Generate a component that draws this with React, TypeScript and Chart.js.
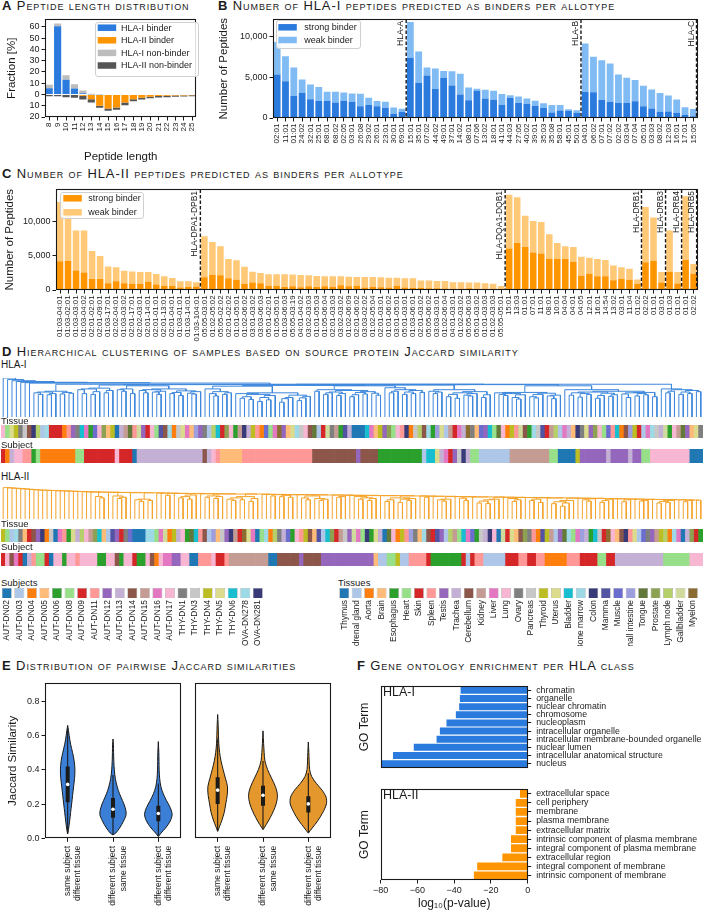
import React, { useEffect, useRef } from "react";
import { Chart, registerables } from "chart.js";

Chart.register(...registerables);

const FONT = "'Liberation Sans', Arial, Helvetica, sans-serif";
Chart.defaults.font.family = FONT;
Chart.defaults.color = "#1a1a1a";

const INK = "#1a1a1a";
const BLUE = "#2b7bde";
const BLUE_L = "#80bbf4";
const ORANGE = "#ff9500";
const ORANGE_L = "#ffc978";
const GRAY_L = "#bdbdbd";
const GRAY_D = "#555555";
const V_BLUE = "#3b7fd6";
const V_ORANGE = "#e3972c";
const DENDRO_BLUE = "#3d87dc";
const DENDRO_ORANGE = "#f5a42c";

// ---------------- Panel A ----------------
const lengthsA = ["8", "9", "10", "11", "12", "13", "14", "15", "16", "17", "18", "19", "20", "21", "22", "23", "24", "25"];
const hla1BinderA = [5.5, 60.5, 13, 5.2, 1, 0.2, 0.1, 0, 0, 0, 0, 0, 0, 0, 0, 0, 0, 0];
const hla1NonBinderA = [3, 2.3, 4, 3.8, 2.5, 0.3, 0.1, 0, 0, 0, 0, 0, 0, 0, 0, 0, 0, 0];
const hla2BinderA = [0, 0, 0, 0, 1.2, 4.3, 10, 12.4, 11.5, 7.2, 4.3, 2.9, 2, 1.4, 1.2, 1, 0.9, 0.8];
const hla2NonBinderA = [1.5, 1.7, 2.6, 2.9, 3.4, 2.9, 1.7, 2, 2, 2.3, 1.7, 1.7, 1.4, 1.4, 1.2, 1, 0.9, 0.8];
const yTicksA = [-20, -10, 0, 10, 20, 30, 40, 50, 60];

// ---------------- Panel B ----------------
const allotypesB = [
  "02:01", "11:01", "01:01", "24:02", "32:01", "25:01", "68:01", "68:02", "02:05", "03:01", "26:08", "29:02", "26:01", "23:01", "30:01", "69:01",
  "15:01", "35:01", "07:02", "44:02", "49:01", "37:01", "14:02", "08:01", "07:06", "13:02", "18:01", "41:01", "44:03", "27:05", "40:02", "39:01", "35:03", "35:08", "58:01", "45:01", "50:01",
  "04:01", "06:02", "07:01", "07:02", "02:02", "03:04", "07:04", "05:01", "03:03", "08:02", "12:03", "16:01", "17:01", "15:05",
];
const strongB = [
  5320, 4480, 2680, 3080, 2280, 2080, 2080, 1880, 2120, 2000, 1440, 1600, 1440, 1240, 520, 760,
  7360, 4320, 5180, 3550, 4920, 3970, 2860, 2180, 3330, 2380, 2220, 1630, 2460, 1830, 1750, 1510, 1230, 670, 910, 870, 630,
  3180, 3140, 2220, 1990, 1830, 1830, 2060, 1430, 1150, 750, 790, 640, 400, 200,
];
const weakB = [
  3960, 3080, 3480, 1640, 1800, 1720, 1120, 1320, 1000, 1000, 1520, 880, 640, 760, 760, 360,
  4360, 3800, 1000, 2500, 830, 1750, 2540, 1550, 240, 1070, 1110, 1310, 320, 790, 630, 590, 560, 920, 680, 200, 320,
  5910, 4360, 4850, 4680, 3490, 3090, 2590, 2500, 2340, 2310, 1950, 1620, 910, 910,
];
const groupNamesB = ["HLA-A", "HLA-B", "HLA-C"];
const groupEndsB = [15, 36, 50];
const yTicksB = [0, 5000, 10000];

// ---------------- Panel C ----------------
const allotypesC = [
  "01:03-04:01", "01:03-02:01", "01:03-03:01", "01:03-04:02", "02:01-02:01", "02:01-09:01", "01:03-17:01", "02:02-04:01", "01:03-03:02",
  "02:01-17:01", "02:02-03:01", "02:01-14:01", "02:01-01:01", "02:01-13:01", "02:01-04:01", "01:03-01:01", "01:03-14:01", "01:03-104:01",
  "05:05-03:01", "01:02-05:02", "05:05-02:02", "02:01-02:02", "01:01-05:01", "01:02-06:02", "03:01-03:02", "03:03-06:03", "05:01-02:01",
  "01:05-05:01", "01:03-06:03", "05:05-03:19", "04:01-04:02", "03:02-03:03", "01:01-05:03", "01:05-06:04", "02:01-03:03", "03:02-03:02",
  "01:02-06:09", "02:01-06:02", "03:03-02:02", "01:02-05:04", "02:01-03:01", "01:01-06:02", "03:01-05:01", "05:01-03:01", "01:03-06:01",
  "02:01-03:02", "05:05-06:02", "03:03-03:01", "01:02-06:04", "04:01-03:01", "01:02-03:02", "05:05-06:03", "05:01-03:02", "01:01-03:03",
  "01:02-03:03", "05:05-05:01",
  "15:01", "13:03", "01:01", "07:01", "11:01", "08:01", "10:01", "04:04", "04:01", "04:05", "12:01", "16:01", "14:54", "13:02", "03:01", "11:04", "01:02",
  "02:02", "01:01", "03:01",
  "01:03", "01:01",
  "01:01", "02:02",
];
const strongC = [
  4190, 4240, 2860, 2570, 1620, 1620, 1000, 1290, 1000, 900, 860, 1190, 810, 570, 570, 380, 430, 520,
  1860, 2240, 2140, 1710, 1480, 860, 1090, 1000, 620, 600, 450, 560, 420, 560, 450, 560, 480, 700, 550, 600, 350, 480,
  400, 350, 600, 350, 300, 300, 250, 250, 230, 200, 200, 250, 200, 200, 200, 150,
  6050, 6860, 6280, 5470, 5330, 4570, 4570, 4520, 4140, 2090, 2380, 2000, 2000, 1430, 1620, 1480, 860,
  4050, 4280, 1090,
  2620, 950,
  4380, 2380,
];
const weakC = [
  8660, 6760, 5840, 6130, 4090, 3330, 2430, 2040, 1810, 1810, 1760, 1430, 1520, 1430, 1190, 910, 860, 620,
  5990, 4760, 4240, 2810, 2850, 2520, 1580, 1480, 1680, 1700, 1850, 1690, 1780, 1590, 1600, 1440, 1520, 1300, 1400, 1300,
  1550, 1420, 1450, 1450, 1200, 1350, 1400, 1100, 1150, 1050, 1070, 950, 950, 850, 900, 800, 700, 450,
  7850, 6710, 4570, 4620, 4620, 3570, 2280, 1860, 2140, 2760, 2330, 2520, 2380, 2140, 1710, 1610, 660,
  8090, 6320, 1530,
  6090, 1670,
  9330, 1430,
];
const groupNamesC = ["HLA-DPA1-DPB1", "HLA-DQA1-DQB1", "HLA-DRB1", "HLA-DRB3", "HLA-DRB4", "HLA-DRB5"];
const groupEndsC = [17, 55, 72, 75, 77, 79];
const yTicksC = [0, 5000, 10000];

// ---------------- Panel D ----------------
const subjectNames = [
  "AUT-DN02", "AUT-DN03", "AUT-DN04", "AUT-DN05", "AUT-DN06", "AUT-DN08", "AUT-DN09", "AUT-DN11", "AUT-DN12", "AUT-DN13", "AUT-DN14",
  "AUT-DN15", "AUT-DN16", "AUT-DN17", "THY-DN1", "THY-DN3", "THY-DN4", "THY-DN5", "THY-DN6", "OVA-DN278", "OVA-DN281",
];
const subjectColors = [
  "#1f77b4", "#aec7e8", "#ff7f0e", "#ffbb78", "#2ca02c", "#98df8a", "#d62728", "#ff9896", "#9467bd", "#c5b0d5", "#8c564b",
  "#c49c94", "#e377c2", "#f7b6d2", "#7f7f7f", "#c7c7c7", "#bcbd22", "#dbdb8d", "#17becf", "#9edae5", "#393b79",
];
const tissueNames = [
  "Thymus", "Adrenal gland", "Aorta", "Brain", "Esophagus", "Heart", "Skin", "Spleen", "Testis", "Trachea", "Cerebellum", "Kidney",
  "Liver", "Lung", "Ovary", "Pancreas", "Thyroid", "Uterus", "Bladder", "Bone marrow", "Colon", "Mamma", "Muscle", "Small intestine",
  "Tongue", "Prostate", "Lymph node", "Gallbladder", "Myelon",
];
const tissueColors = [
  "#1f77b4", "#aec7e8", "#ff7f0e", "#ffbb78", "#2ca02c", "#98df8a", "#d62728", "#ff9896", "#9467bd", "#c5b0d5", "#8c564b", "#c49c94",
  "#e377c2", "#f7b6d2", "#7f7f7f", "#c7c7c7", "#bcbd22", "#dbdb8d", "#17becf", "#9edae5", "#393b79", "#5254a3", "#6b6ecf", "#9c9ede",
  "#637939", "#8ca252", "#b5cf6b", "#cedb9c", "#8c6d31",
];

// merge height between neighbouring leaves (0 = leaf, 100 = root)
const dendroGapsI = [
  100, 96, 93, 91, 89, 88, 87,
  62, 58, 64, 57, 60, 66, 59, 63, 61, 84,
  70, 60, 72, 58, 65, 74, 62, 68, 82,
  70, 66, 72, 60, 80,
  68, 62, 70, 64, 58, 66, 72, 60, 63, 55, 67, 61, 59, 65, 83,
  72, 60, 54, 65, 58, 62, 79,
  60, 48, 52, 45, 58, 40, 50, 44, 55, 62, 38, 47, 50, 56, 42, 49, 53, 81,
  66, 70, 58, 62, 64, 55, 60, 68, 52, 57, 63, 59, 65, 61, 56, 80,
  75, 62, 66, 70, 58, 64, 60, 68, 63, 82,
  66, 60, 64, 70, 52, 58, 48, 62, 56, 54, 60, 65, 50, 57, 83,
  62, 58, 55, 60, 50, 46, 57, 63, 52, 49, 58, 61, 54, 47, 56, 80,
  70, 56, 62, 51, 60, 58, 64, 48, 55, 61, 53, 57, 66, 59, 50, 62, 54, 60, 57, 63, 52, 84,
  72, 62, 66, 70, 58, 64, 60, 68, 65,
];
const dendroGapsII = [
  98, 97, 96, 95, 94, 93, 92, 91, 90, 90,
  89, 89, 88, 88, 87, 87, 86, 86, 85, 85,
  84, 70, 66, 84, 83, 72, 64, 68, 83, 82,
  60, 55, 62, 58, 82, 81, 81, 74, 80, 80,
  66, 70, 62, 75, 79, 79, 68, 72, 64, 70,
  78, 62, 58, 66, 60, 70, 55, 64, 78, 77,
  77, 72, 76, 70, 74, 68, 76, 76, 66, 60,
  72, 64, 58, 62, 75, 75, 68, 70, 74, 74,
  70, 62, 66, 58, 64, 73, 73, 55, 60, 66,
  52, 62, 58, 64, 72, 72, 68, 71, 71, 60,
  56, 62, 70, 70, 65, 58, 69, 69, 50, 56,
  48, 60, 62, 68, 68, 64, 55, 60, 67, 67,
  58, 62, 52, 66, 66, 48, 54, 40, 50, 58,
  65, 65, 60, 56, 63, 64, 52, 58, 62, 63,
  63, 54, 60, 62, 62, 56, 58, 61, 61, 50,
  55, 52, 58, 60, 60, 54, 58, 59, 59,
];
const tissueI = [
  13, 5, 17, 16, 14, 15, 10, 20, 26, 1,
  19, 6, 6, 6, 2, 7, 8, 14, 18, 12,
  4, 22, 13, 25, 3, 16, 0, 9, 11, 24,
  7, 27, 8, 6, 13, 5, 21, 10, 19, 2,
  15, 17, 12, 3, 23, 8, 14, 1, 26, 18,
  6, 25, 13, 4, 11, 20, 9, 16, 7, 2,
  22, 5, 12, 28, 8, 3, 17, 19, 15, 13,
  10, 24, 1, 6, 27, 14, 11, 4, 21, 9,
  0, 0, 0, 18, 12, 3, 16, 8, 25, 5,
  13, 7, 20, 2, 15, 26, 10, 19, 4, 23,
  17, 1, 11, 6, 12, 9, 28, 14, 3, 22,
  8, 18, 5, 24, 13, 2, 16, 7, 27, 10,
  4, 19, 15, 21, 6, 11, 26, 1, 12, 9,
  3, 20, 14, 17, 8, 25, 13, 5, 22, 7,
  18, 2, 10, 23, 16, 6, 1, 12, 19, 15,
  9, 27, 4, 13, 11, 24, 8, 3, 17, 14,
];
const tissueII = [
  16, 5, 1, 19, 14, 3, 6, 10, 8, 20,
  2, 15, 0, 12, 7, 4, 17, 9, 26, 13,
  11, 25, 18, 3, 1, 21, 8, 6, 14, 22,
  0, 0, 0, 19, 19, 5, 12, 27, 2, 16,
  9, 13, 4, 24, 18, 7, 10, 1, 23, 3,
  15, 8, 20, 11, 6, 28, 17, 12, 0, 5,
  19, 2, 26, 14, 9, 22, 4, 13, 7, 16,
  10, 3, 21, 1, 18, 25, 6, 11, 15, 8,
  27, 12, 5, 20, 4, 17, 9, 0, 24, 13,
  2, 16, 7, 23, 14, 3, 19, 10, 6, 21,
  8, 1, 26, 11, 5, 18, 12, 22, 4, 15,
  9, 20, 13, 0, 27, 6, 17, 3, 10, 25,
  14, 7, 2, 21, 16, 11, 1, 8, 24, 19,
  5, 12, 23, 9, 4, 18, 15, 6, 28, 13,
  3, 10, 20, 7, 17, 1, 22, 14, 8, 11,
  16, 26, 2, 19, 12, 0, 9, 25, 6, 4,
];
// [subject index, number of consecutive samples]
const subjectRunsI = [
  [6, 1], [2, 1], [9, 1], [13, 2], [7, 2], [4, 1], [5, 1], [2, 8], [5, 2], [6, 7], [13, 1], [6, 3], [0, 1], [9, 15], [10, 1], [9, 1],
  [13, 1], [7, 1], [3, 5], [7, 16], [10, 10], [8, 1], [10, 4], [4, 10], [1, 1], [18, 2], [17, 1], [9, 1], [12, 1], [6, 1], [8, 1],
  [15, 1], [20, 1], [9, 1], [5, 2], [1, 7], [11, 9], [5, 2], [0, 4], [16, 1], [8, 6], [9, 1], [8, 4], [9, 1], [8, 2], [5, 2], [13, 9], [0, 3],
];
const subjectRunsII = [
  [6, 1], [13, 1], [10, 1], [12, 1], [6, 1], [0, 1], [9, 1], [7, 1], [5, 2], [6, 1], [0, 1], [13, 2], [4, 1], [13, 2], [7, 1], [13, 4],
  [4, 2], [13, 2], [10, 1], [4, 1], [13, 2], [6, 1], [4, 2], [13, 1], [10, 1], [2, 1], [13, 1], [12, 2], [8, 2], [13, 2], [0, 2], [7, 3],
  [13, 1], [6, 2], [7, 1], [11, 9], [0, 2], [10, 5], [8, 1], [10, 4], [8, 12], [3, 1], [1, 2], [5, 2], [16, 1], [1, 2], [7, 4], [6, 1],
  [4, 7], [6, 1], [1, 1], [6, 1], [7, 2], [1, 5], [6, 3], [7, 2], [6, 2], [7, 2], [2, 5], [7, 3], [6, 4], [5, 2], [6, 2], [9, 11], [5, 6], [13, 3],
];

// ---------------- Panel E ----------------
const violinCentersE = [0, 1, 2];
const violinLevelsE = [
  [0.025, 0.05, 0.1, 0.15, 0.2, 0.25, 0.3, 0.35, 0.4, 0.45, 0.5, 0.55, 0.6, 0.63, 0.66],
  [0.02, 0.03, 0.06, 0.1, 0.14, 0.18, 0.22, 0.26, 0.3, 0.35, 0.4, 0.45, 0.5, 0.55, 0.58],
  [0.01, 0.03, 0.06, 0.1, 0.14, 0.18, 0.22, 0.26, 0.3, 0.35, 0.4, 0.5, 0.565],
  [0.04, 0.07, 0.1, 0.15, 0.2, 0.25, 0.3, 0.35, 0.4, 0.45, 0.5, 0.55, 0.6, 0.66, 0.72],
  [0.05, 0.08, 0.12, 0.16, 0.2, 0.25, 0.3, 0.35, 0.4, 0.45, 0.5, 0.55, 0.625],
  [0.03, 0.06, 0.1, 0.15, 0.2, 0.24, 0.28, 0.32, 0.36, 0.4, 0.45, 0.5, 0.56],
];
const violinHalfWidthsE = [
  [0, 0.018, 0.043, 0.065, 0.087, 0.109, 0.13, 0.152, 0.16, 0.145, 0.109, 0.065, 0.033, 0.018, 0],
  [0, 0.058, 0.145, 0.232, 0.29, 0.268, 0.21, 0.145, 0.094, 0.051, 0.029, 0.018, 0.013, 0.009, 0],
  [0, 0.058, 0.159, 0.261, 0.304, 0.261, 0.181, 0.109, 0.058, 0.029, 0.018, 0.011, 0],
  [0, 0.043, 0.087, 0.145, 0.178, 0.21, 0.217, 0.17, 0.12, 0.074, 0.043, 0.025, 0.018, 0.011, 0],
  [0, 0.072, 0.159, 0.232, 0.29, 0.319, 0.275, 0.188, 0.101, 0.043, 0.025, 0.014, 0],
  [0, 0.087, 0.203, 0.319, 0.399, 0.391, 0.304, 0.174, 0.072, 0.029, 0.018, 0.011, 0],
];
const q1E = [0.21, 0.12, 0.1, 0.2, 0.19, 0.15];
const medianE = [0.315, 0.17, 0.145, 0.28, 0.25, 0.2];
const q3E = [0.42, 0.235, 0.19, 0.355, 0.305, 0.245];
const whiskerLoE = [0.03, 0.02, 0.015, 0.045, 0.055, 0.035];
const whiskerHiE = [0.64, 0.37, 0.32, 0.58, 0.45, 0.38];
const comparisonLabelsE = [
  ["same subject", "different tissue"],
  ["different subject", "same tissue"],
  ["different subject", "different tissue"],
];
const yTicksE = [0, 0.2, 0.4, 0.6, 0.8];

// ---------------- Panel F ----------------
const goTermsI = [
  "chromatin", "organelle", "nuclear chromatin", "chromosome", "nucleoplasm", "intracellular organelle",
  "intracellular membrane-bounded organelle", "nuclear lumen", "intracellular anatomical structure", "nucleus",
];
const goLogPI = [-36.5, -36.9, -37.3, -39.1, -44.2, -47.8, -49.6, -62, -73.3, -79.6];
const goTermsII = [
  "extracellular space", "cell periphery", "membrane", "plasma membrane", "extracellular matrix",
  "intrinsic component of plasma membrane", "integral component of plasma membrane", "extracellular region",
  "integral component of membrane", "intrinsic component of membrane",
];
const goLogPII = [-4.2, -6.5, -6.5, -6.5, -6.5, -9.1, -9.1, -13.8, -27.5, -29.3];

// ---------------- helpers ----------------
function expandRuns(runs: number[][]) {
  const out: number[] = [];
  runs.forEach(([v, n]) => {
    for (let i = 0; i < n; i++) out.push(v);
  });
  return out;
}
const subjectI = expandRuns(subjectRunsI);
const subjectII = expandRuns(subjectRunsII);

function dendroSegments(gaps: number[]) {
  const pts: any[] = [];
  const rec = (a: number, b: number): { x: number; h: number } => {
    if (a === b) return { x: a, h: 0 };
    let m = a;
    for (let i = a; i < b; i++) if (gaps[i] > gaps[m]) m = i;
    const L = rec(a, m);
    const R = rec(m + 1, b);
    const H = gaps[m];
    pts.push({ x: L.x, y: L.h }, { x: L.x, y: H }, { x: R.x, y: H }, { x: R.x, y: R.h }, { x: R.x, y: null });
    return { x: (L.x + R.x) / 2, h: H };
  };
  rec(0, gaps.length);
  return pts;
}

function violinOutline(c: number, lv: number[], hw: number[]) {
  const pts: any[] = [];
  for (let i = 0; i < lv.length; i++) pts.push({ x: c + hw[i], y: lv[i] });
  for (let i = lv.length - 1; i >= 0; i--) pts.push({ x: c - hw[i], y: lv[i] });
  return pts;
}

const fixW = (w: number) => (s: any) => {
  s.width = w;
};
const fixH = (h: number) => (s: any) => {
  s.height = h;
};
const tickGrid = { display: true, drawOnChartArea: false, drawTicks: true, tickLength: 3.5, tickColor: INK, tickWidth: 1, offset: false };
const noGrid = { display: false, drawTicks: false };
const noBorder = { display: false };
const thousands = (v: any) => Number(v).toLocaleString("en-US");

// ---------------- plugins ----------------
const framePlugin = {
  id: "frame",
  afterDatasetsDraw(chart: any, _a: any, o: any) {
    if (!o || !o.on) return;
    const { ctx, chartArea: a } = chart;
    ctx.save();
    ctx.strokeStyle = INK;
    ctx.lineWidth = 1.1;
    const l = Math.round(a.left) + 0.5;
    const t = Math.round(a.top) + 0.5;
    const r = Math.round(a.right) - 0.5;
    const b = Math.round(a.bottom) - 0.5;
    ctx.strokeRect(l, t, r - l, b - t);
    ctx.restore();
  },
};

const legendPlugin = {
  id: "boxLegend",
  afterDraw(chart: any, _a: any, o: any) {
    if (!o || !o.on) return;
    const ctx = chart.ctx;
    ctx.save();
    ctx.beginPath();
    if (ctx.roundRect) ctx.roundRect(o.x + 0.5, o.y + 0.5, o.w, o.h, 2.5);
    else ctx.rect(o.x + 0.5, o.y + 0.5, o.w, o.h);
    ctx.fillStyle = "rgba(255,255,255,0.85)";
    ctx.fill();
    ctx.strokeStyle = "#cfcfcf";
    ctx.lineWidth = 1;
    ctx.stroke();
    ctx.font = `${o.fs}px ${FONT}`;
    ctx.textBaseline = "middle";
    chart.data.datasets.forEach((d: any, i: number) => {
      const cy = o.y + o.row0 + i * o.gap;
      ctx.fillStyle = d.backgroundColor;
      ctx.fillRect(o.x + o.swX, cy - o.swH / 2, o.swW, o.swH);
      ctx.fillStyle = INK;
      ctx.fillText(d.label, o.x + o.txX, cy + 0.5);
    });
    ctx.restore();
  },
};

const groupPlugin = {
  id: "groupLines",
  afterDatasetsDraw(chart: any, _a: any, o: any) {
    if (!o || !o.names) return;
    const { ctx, chartArea: a, scales } = chart;
    const x = scales.x;
    const last = chart.data.labels.length - 1;
    ctx.save();
    o.names.forEach((name: string, i: number) => {
      const e = o.ends[i];
      const px = e >= last ? a.right - 1 : (x.getPixelForValue(e) + x.getPixelForValue(e + 1)) / 2;
      ctx.beginPath();
      ctx.setLineDash([3.5, 2]);
      ctx.lineWidth = 1.4;
      ctx.strokeStyle = INK;
      ctx.moveTo(px, a.top);
      ctx.lineTo(px, a.bottom);
      ctx.stroke();
      ctx.setLineDash([]);
      ctx.save();
      ctx.translate(px - o.fs * 0.62, a.top + 1.5);
      ctx.rotate(-Math.PI / 2);
      ctx.font = `${o.fs}px ${FONT}`;
      ctx.fillStyle = INK;
      ctx.textAlign = "right";
      ctx.textBaseline = "middle";
      ctx.fillText(name, 0, 0);
      ctx.restore();
    });
    ctx.restore();
  },
};

Chart.register(framePlugin as any, legendPlugin as any, groupPlugin as any);

function base(padding: any, plugins: any = {}) {
  return {
    animation: false,
    responsive: false,
    maintainAspectRatio: false,
    events: [],
    layout: { padding },
    plugins: { legend: { display: false }, tooltip: { enabled: false }, ...plugins },
  };
}

// ---------------- chart configs ----------------
const makeA = () => ({
  type: "bar",
  data: {
    labels: lengthsA,
    datasets: [
      { label: "HLA-I binder", data: hla1BinderA, backgroundColor: BLUE },
      { label: "HLA-II binder", data: hla2BinderA.map((v) => -v), backgroundColor: ORANGE },
      { label: "HLA-I non-binder", data: hla1NonBinderA, backgroundColor: GRAY_L },
      { label: "HLA-II non-binder", data: hla2NonBinderA.map((v) => -v), backgroundColor: GRAY_D },
    ].map((d) => ({ ...d, barPercentage: 0.85, categoryPercentage: 1, borderWidth: 0 })),
  },
  options: {
    ...base(
      { left: 0, top: 5, right: 4, bottom: 0 },
      { frame: { on: true }, boxLegend: { on: true, x: 95, y: 10, w: 103, h: 54, row0: 5.7, gap: 12.6, swX: 2.7, swW: 18.5, swH: 6.5, txX: 26, fs: 9 } }
    ),
    scales: {
      x: {
        stacked: true,
        grid: tickGrid,
        border: noBorder,
        afterFit: fixH(51),
        ticks: { autoSkip: false, minRotation: 90, maxRotation: 90, font: { size: 8 }, padding: 2, color: INK },
        title: { display: true, text: "Peptide length", font: { size: 11.5 }, color: INK, padding: { top: 0, bottom: 4 } },
      },
      y: {
        stacked: true,
        min: -20,
        max: 66.5,
        afterBuildTicks: (s: any) => {
          s.ticks = yTicksA.map((v) => ({ value: v }));
        },
        ticks: { autoSkip: false, callback: (v: any) => String(Math.abs(v)), font: { size: 9 }, padding: 2, color: INK },
        grid: tickGrid,
        border: noBorder,
        afterFit: fixW(45),
        title: { display: true, text: "Fraction [%]", font: { size: 11.5 }, color: INK, padding: { top: 5, bottom: 0 } },
      },
    },
  },
});

const makeB = () => ({
  type: "bar",
  data: {
    labels: allotypesB,
    datasets: [
      { label: "strong binder", data: strongB, backgroundColor: BLUE },
      { label: "weak binder", data: weakB, backgroundColor: BLUE_L },
    ].map((d) => ({ ...d, barPercentage: 0.82, categoryPercentage: 1, borderWidth: 0 })),
  },
  options: {
    ...base(
      { left: 0, top: 5, right: 5, bottom: 0 },
      {
        frame: { on: true },
        boxLegend: { on: true, x: 71, y: 8, w: 84, h: 28, row0: 7.3, gap: 12.7, swX: 2.3, swW: 18.5, swH: 6.5, txX: 28.3, fs: 9 },
        groupLines: { names: groupNamesB, ends: groupEndsB, fs: 8.5 },
      }
    ),
    scales: {
      x: {
        stacked: true,
        grid: tickGrid,
        border: noBorder,
        afterFit: fixH(44),
        ticks: { autoSkip: false, minRotation: 90, maxRotation: 90, font: { size: 8 }, padding: 2, color: INK },
      },
      y: {
        stacked: true,
        min: 0,
        max: 12050,
        afterBuildTicks: (s: any) => {
          s.ticks = yTicksB.map((v) => ({ value: v }));
        },
        ticks: { autoSkip: false, callback: thousands, font: { size: 9 }, padding: 2, color: INK },
        grid: tickGrid,
        border: noBorder,
        afterFit: fixW(68),
        title: { display: true, text: "Number of Peptides", font: { size: 11.5 }, color: INK, padding: { top: 12.4, bottom: 0 } },
      },
    },
  },
});

const makeC = () => ({
  type: "bar",
  data: {
    labels: allotypesC,
    datasets: [
      { label: "strong binder", data: strongC, backgroundColor: ORANGE },
      { label: "weak binder", data: weakC, backgroundColor: ORANGE_L },
    ].map((d) => ({ ...d, barPercentage: 0.82, categoryPercentage: 1, borderWidth: 0 })),
  },
  options: {
    ...base(
      { left: 0, top: 5, right: 2, bottom: 0 },
      {
        frame: { on: true },
        boxLegend: { on: true, x: 60, y: 10, w: 83, h: 26, row0: 6.3, gap: 14, swX: 3.3, swW: 18.5, swH: 6.5, txX: 28.3, fs: 9 },
        groupLines: { names: groupNamesC, ends: groupEndsC, fs: 8.5 },
      }
    ),
    scales: {
      x: {
        stacked: true,
        grid: tickGrid,
        border: noBorder,
        afterFit: fixH(62),
        ticks: { autoSkip: false, minRotation: 90, maxRotation: 90, font: { size: 7.8 }, padding: 2, color: INK },
      },
      y: {
        stacked: true,
        min: 0,
        max: 14700,
        afterBuildTicks: (s: any) => {
          s.ticks = yTicksC.map((v) => ({ value: v }));
        },
        ticks: { autoSkip: false, callback: thousands, font: { size: 9 }, padding: 2, color: INK },
        grid: tickGrid,
        border: noBorder,
        afterFit: fixW(56),
        title: { display: true, text: "Number of Peptides", font: { size: 11.5 }, color: INK, padding: { top: 3.4, bottom: 0 } },
      },
    },
  },
});

const makeDendro = (gaps: number[], color: string) => () => ({
  type: "line",
  data: {
    datasets: [
      { data: dendroSegments(gaps), borderColor: color, borderWidth: 1, pointRadius: 0, spanGaps: false, tension: 0, fill: false },
    ],
  },
  options: {
    ...base({ left: 1, top: 2, right: 2, bottom: 2 }),
    scales: {
      x: { type: "linear", min: -0.5, max: gaps.length + 0.5, display: false },
      y: { min: 0, max: 100, display: false },
    },
  },
});

const makeStrip = (cats: number[], palette: string[]) => () => ({
  type: "bar",
  data: {
    labels: cats.map((_, i) => String(i)),
    datasets: [
      {
        data: cats.map(() => 1),
        backgroundColor: cats.map((c) => palette[c]),
        borderWidth: 0,
        barPercentage: 1,
        categoryPercentage: 1,
      },
    ],
  },
  options: {
    ...base({ left: 1, top: 0, right: 2, bottom: 0 }),
    scales: { x: { display: false }, y: { display: false, min: 0, max: 1 } },
  },
});

const makeSwatches = (names: string[], colors: string[], padding: any) => () => ({
  type: "bar",
  data: {
    labels: names,
    datasets: [
      {
        data: names.map(() => 1),
        backgroundColor: colors,
        borderColor: "#9a9a9a",
        borderWidth: 0.6,
        barPercentage: 0.79,
        categoryPercentage: 1,
      },
    ],
  },
  options: {
    ...base(padding),
    scales: {
      x: {
        grid: noGrid,
        border: noBorder,
        afterFit: fixH(48),
        ticks: { autoSkip: false, minRotation: 90, maxRotation: 90, font: { size: 8.4 }, padding: 2, color: INK },
      },
      y: { display: false, min: 0, max: 1 },
    },
  },
});

const makeViolins = (offset: number, colour: string, showY: boolean) => () => {
  const idx = [0, 1, 2].map((k) => k + offset);
  const medians = idx.map((i, k) => ({
    data: [{ x: violinCentersE[k], y: medianE[i] }],
    showLine: false,
    pointRadius: 1.8,
    pointBackgroundColor: "#ffffff",
    pointBorderWidth: 0,
  }));
  const iqr = idx.map((i, k) => ({
    data: [
      { x: violinCentersE[k], y: q1E[i] },
      { x: violinCentersE[k], y: q3E[i] },
    ],
    borderColor: INK,
    borderWidth: 4,
    pointRadius: 0,
    borderCapStyle: "butt",
  }));
  const whiskers = idx.map((i, k) => ({
    data: [
      { x: violinCentersE[k], y: whiskerLoE[i] },
      { x: violinCentersE[k], y: whiskerHiE[i] },
    ],
    borderColor: INK,
    borderWidth: 1.1,
    pointRadius: 0,
  }));
  const violins = idx.map((i, k) => ({
    data: violinOutline(violinCentersE[k], violinLevelsE[i], violinHalfWidthsE[i]),
    borderColor: INK,
    borderWidth: 1,
    backgroundColor: colour,
    fill: "shape",
    tension: 0.3,
    pointRadius: 0,
  }));
  return {
    type: "line",
    data: { datasets: [...medians, ...iqr, ...whiskers, ...violins] },
    options: {
      ...base({ left: showY ? 0 : 10, top: 6.7, right: 2, bottom: 0 }, { frame: { on: true } }),
      scales: {
        x: {
          type: "linear",
          min: -0.5,
          max: 2.5,
          afterBuildTicks: (s: any) => {
            s.ticks = violinCentersE.map((v) => ({ value: v }));
          },
          ticks: {
            callback: (_v: any, i: number) => comparisonLabelsE[i],
            minRotation: 90,
            maxRotation: 90,
            autoSkip: false,
            font: { size: 8.5 },
            padding: 4,
            color: INK,
          },
          grid: tickGrid,
          border: noBorder,
          afterFit: fixH(69.7),
        },
        y: showY
          ? {
              min: 0,
              max: 0.905,
              afterBuildTicks: (s: any) => {
                s.ticks = yTicksE.map((v) => ({ value: v }));
              },
              ticks: { autoSkip: false, callback: (v: any) => Number(v).toFixed(1), font: { size: 9 }, padding: 2, color: INK },
              grid: tickGrid,
              border: noBorder,
              afterFit: fixW(45),
              title: { display: true, text: "Jaccard Similarity", font: { size: 11.5 }, color: INK, padding: { top: 6.1, bottom: 0 } },
            }
          : { min: 0, max: 0.905, display: false },
      },
    },
  };
};

const makeGO = (terms: string[], values: number[], colour: string, bottom: boolean) => () => ({
  type: "bar",
  data: {
    labels: terms,
    datasets: [{ data: values, backgroundColor: colour, borderWidth: 0, barPercentage: 0.86, categoryPercentage: 1 }],
  },
  options: {
    ...base({ left: 0, top: bottom ? 5.3 : 5.7, right: 0, bottom: bottom ? 0 : 2 }, { frame: { on: true } }),
    indexAxis: "y",
    scales: {
      x: bottom
        ? {
            min: -80,
            max: 0,
            ticks: { stepSize: 20, callback: (v: any) => (v < 0 ? "\u2212" + Math.abs(v) : String(v)), font: { size: 9 }, padding: 2, color: INK },
            grid: tickGrid,
            border: noBorder,
            afterFit: fixH(31),
            title: { display: true, text: "log\u2081\u2080(p-value)", font: { size: 12 }, color: INK, padding: { top: 0, bottom: 0 } },
          }
        : { min: -80, max: 0, display: false },
      y: {
        position: "right",
        grid: tickGrid,
        border: noBorder,
        ticks: { autoSkip: false, font: { size: 8.8 }, padding: 5, color: INK },
        afterFit: fixW(177.3),
      },
      yL: {
        type: "linear",
        position: "left",
        display: true,
        ticks: { display: false },
        grid: { display: false, drawTicks: false },
        border: noBorder,
        afterFit: fixW(30.7),
        title: { display: true, text: "GO Term", font: { size: 12 }, color: INK, padding: { top: 7.8, bottom: 0 } },
      },
    },
  },
});

// ---------------- components ----------------
function ChartBox({ left, top, width, height, make }: any) {
  const ref = useRef<HTMLCanvasElement>(null);
  useEffect(() => {
    const chart = new Chart(ref.current as any, make() as any);
    return () => chart.destroy();
  }, []);
  return <canvas ref={ref} width={width} height={height} style={{ position: "absolute", left, top, width, height }} />;
}

function PanelTitle({ x, yc, letter, text }: any) {
  return (
    <div
      style={{
        position: "absolute",
        left: x,
        top: yc - 8,
        fontSize: 13,
        lineHeight: "16px",
        letterSpacing: "0.9px",
        whiteSpace: "nowrap",
        color: INK,
      }}
    >
      <span style={{ fontWeight: "bold" }}>{letter}</span> <span style={{ fontVariant: "small-caps" }}>{text}</span>
    </div>
  );
}

function Label({ x, yc, size, children }: any) {
  return (
    <div style={{ position: "absolute", left: x, top: yc - size * 0.6, fontSize: size, lineHeight: `${size * 1.2}px`, whiteSpace: "nowrap", color: INK }}>
      {children}
    </div>
  );
}

export default function App() {
  return (
    <div
      style={{
        position: "absolute",
        left: 0,
        top: 0,
        width: 705,
        height: 911,
        overflow: "hidden",
        background: "#ffffff",
        fontFamily: FONT,
      }}
    >
      <PanelTitle x={2} yc={6} letter="A" text="Peptide length distribution" />
      <PanelTitle x={218} yc={6} letter="B" text="Number of HLA-I peptides predicted as binders per allotype" />
      <PanelTitle x={2} yc={173.5} letter="C" text="Number of HLA-II peptides predicted as binders per allotype" />
      <PanelTitle x={2} yc={352} letter="D" text="Hierarchical clustering of samples based on source protein Jaccard similarity" />
      <PanelTitle x={2} yc={666} letter="E" text="Distribution of pairwise Jaccard similarities" />
      <PanelTitle x={357} yc={666} letter="F" text="Gene ontology enrichment per HLA class" />

      <ChartBox left={0} top={12} width={204} height={156} make={makeA} />
      <ChartBox left={205} top={12} width={500} height={150} make={makeB} />
      <ChartBox left={0} top={182} width={705} height={170} make={makeC} />

      <Label x={1} yc={365} size={10}>HLA-I</Label>
      <ChartBox left={0} top={376} width={705} height={43} make={makeDendro(dendroGapsI, DENDRO_BLUE)} />
      <Label x={1} yc={421} size={9.5}>Tissue</Label>
      <ChartBox left={0} top={425} width={705} height={13} make={makeStrip(tissueI, tissueColors)} />
      <Label x={1} yc={445} size={9.5}>Subject</Label>
      <ChartBox left={0} top={449} width={705} height={14} make={makeStrip(subjectI, subjectColors)} />
      <Label x={1} yc={477} size={10}>HLA-II</Label>
      <ChartBox left={0} top={485} width={705} height={36} make={makeDendro(dendroGapsII, DENDRO_ORANGE)} />
      <Label x={1} yc={524} size={9.5}>Tissue</Label>
      <ChartBox left={0} top={529} width={705} height={13} make={makeStrip(tissueII, tissueColors)} />
      <Label x={1} yc={547} size={9.5}>Subject</Label>
      <ChartBox left={0} top={553} width={705} height={13} make={makeStrip(subjectII, subjectColors)} />

      <Label x={1} yc={583} size={9.5}>Subjects</Label>
      <ChartBox left={0} top={586} width={270} height={60} make={makeSwatches(subjectNames, subjectColors, { left: 0.5, top: 2, right: 3.4, bottom: 0 })} />
      <Label x={338} yc={583} size={9.5}>Tissues</Label>
      <ChartBox left={335} top={586} width={370} height={60} make={makeSwatches(tissueNames, tissueColors, { left: 3, top: 2, right: 1.6, bottom: 0 })} />

      <ChartBox left={0} top={676} width={185} height={232} make={makeViolins(0, V_BLUE, true)} />
      <ChartBox left={185} top={676} width={150} height={232} make={makeViolins(3, V_ORANGE, false)} />

      <ChartBox left={350} top={676} width={355} height={102} make={makeGO(goTermsI, goLogPI, BLUE, false)} />
      <ChartBox left={350} top={779} width={355} height={132} make={makeGO(goTermsII, goLogPII, ORANGE, true)} />
      <Label x={383} yc={692} size={12.5}>HLA-I</Label>
      <Label x={383} yc={795} size={12.5}>HLA-II</Label>
    </div>
  );
}
